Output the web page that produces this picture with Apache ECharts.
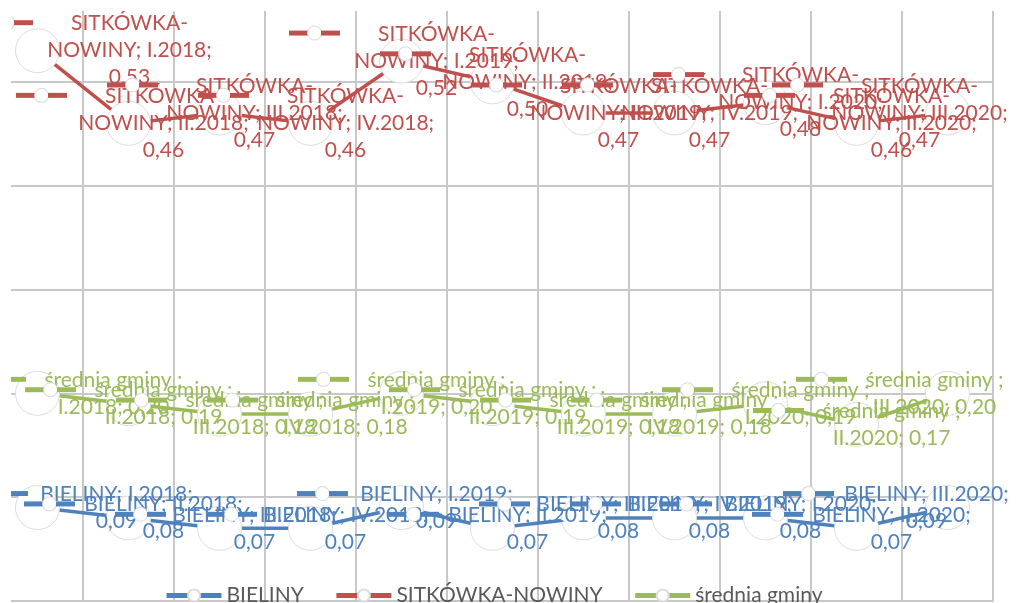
<!DOCTYPE html>
<html>
<head>
<meta charset="utf-8">
<script src="https://cdn.jsdelivr.net/npm/echarts@6/dist/echarts.min.js"></script>
<style>
  html, body { margin: 0; padding: 0; background: #fff; overflow: hidden; }
  /* wykres przycięty jak w oryginale: obszar rysowania wychodzi poza okno */
  #chart { position: absolute; left: -8px; top: -22px; width: 1024px; height: 625px; }
</style>
</head>
<body>
<div id="chart"></div>
<script>
// kwartały
const categories = ['I.2018', 'II.2018', 'III.2018', 'IV.2018', 'I.2019', 'II.2019',
  'III.2019', 'IV.2019', 'I.2020', 'II.2020', 'III.2020']
const bieliny = [0.09, 0.08, 0.07, 0.07, 0.09, 0.07, 0.08, 0.08, 0.08, 0.07, 0.09]
const sitkowka = [0.53, 0.46, 0.47, 0.46, 0.52, 0.50, 0.47, 0.47, 0.48, 0.46, 0.47]
const srednia = [0.20, 0.19, 0.18, 0.18, 0.20, 0.19, 0.18, 0.18, 0.19, 0.17, 0.20]
const yTicks = [0, 0.1, 0.2, 0.3, 0.4, 0.5, 0.6]

const font = 'Lato'
const gridColor = '#c8c8c8'
const last = categories.length - 1

function num(v) {
  return v.toFixed(2).replace('.', ',')
}

// etykieta jak w Excelu: nazwa serii; kategoria; wartość
const labelText = {
  'BIELINY': p => 'BIELINY; ' + p.name + ';\n' + num(p.value),
  'SITKÓWKA-NOWINY': p => 'SITKÓWKA-\nNOWINY; ' + p.name + ';\n' + num(p.value),
  'średnia gminy': p => 'średnia gminy ;\n' + p.name + '; ' + num(p.value)
}

// skrajne etykiety Excel dosuwa do środka wykresu
function edgeShift(i, shift) {
  if (i === 0) return shift[0]
  if (i === last) return shift[1]
  return 0
}

function mainSeries(name, data, color, shift) {
  return {
    name: name,
    type: 'line',
    data: data,
    z: 3,
    symbol: 'circle',
    symbolSize: 44,
    itemStyle: { color: '#fff', borderColor: '#dcdcdc', borderWidth: 1 },
    lineStyle: { color: color, width: 3.5 },
    label: {
      show: true,
      position: 'inside',
      color: color,
      fontFamily: font,
      fontSize: 21,
      lineHeight: 27,
      align: 'center',
      verticalAlign: 'middle',
      formatter: labelText[name]
    },
    labelLayout: p => ({ dx: 35 + edgeShift(p.dataIndex, shift), dy: 0 }),
    emphasis: { disabled: true }
  }
}

// klucz legendy przy etykiecie (—○—)
function keySeries(name, data, color, off, shift) {
  return {
    name: name + ' key',
    type: 'line',
    data: data,
    z: 4,
    silent: true,
    symbol: 'circle',
    symbolSize: 1,
    itemStyle: { color: 'rgba(0,0,0,0)' },
    lineStyle: { width: 0, opacity: 0 },
    label: {
      show: true,
      position: 'inside',
      formatter: '{a|}{b|}{a|}',
      rich: {
        a: { width: 19, height: 5, backgroundColor: color, verticalAlign: 'middle' },
        b: { width: 13, height: 13, backgroundColor: '#fff', borderColor: '#d9d9d9',
          borderWidth: 1, borderRadius: 7, verticalAlign: 'middle' }
      }
    },
    labelLayout: p => ({ dx: off[0] + edgeShift(p.dataIndex, shift), dy: off[1] }),
    emphasis: { disabled: true }
  }
}

const chart = echarts.init(document.getElementById('chart'))
chart.setOption({
  animation: false,
  grid: { left: 0, right: 23, top: 0, bottom: 2 },
  xAxis: {
    type: 'category',
    data: categories,
    boundaryGap: true,
    axisLine: { show: true, lineStyle: { color: gridColor, width: 2 } },
    axisTick: { show: false },
    axisLabel: { show: false },
    splitLine: { show: true, interval: 0, lineStyle: { color: gridColor, width: 2 } }
  },
  yAxis: {
    type: 'value',
    min: yTicks[0],
    max: yTicks[yTicks.length - 1],
    interval: 0.1,
    axisLine: { show: false },
    axisTick: { show: false },
    axisLabel: { show: false },
    splitLine: { show: true, lineStyle: { color: gridColor, width: 2 } }
  },
  legend: {
    data: ['BIELINY', 'SITKÓWKA-NOWINY', 'średnia gminy'],
    left: 167,
    top: 602,
    itemWidth: 55,
    itemHeight: 15,
    itemGap: 30,
    lineStyle: { width: 5 },
    textStyle: { fontFamily: font, fontSize: 21, color: '#595959' }
  },
  graphic: [
    { type: 'rect', z: 100, shape: { x: 0, y: 0, width: 19, height: 625 }, style: { fill: '#fff' } },
    { type: 'rect', z: 100, shape: { x: 0, y: 0, width: 1024, height: 33 }, style: { fill: '#fff' } }
  ],
  series: [
    mainSeries('BIELINY', bieliny, '#4F81BD', [44, -56]),
    mainSeries('SITKÓWKA-NOWINY', sitkowka, '#C0504D', [57, -63]),
    mainSeries('średnia gminy', srednia, '#9BBB59', [41, -48]),
    keySeries('BIELINY', bieliny, '#4F81BD', [-79, -14], [44, -60]),
    keySeries('SITKÓWKA-NOWINY', sitkowka, '#C0504D', [-87, -28], [57, -63]),
    keySeries('średnia gminy', srednia, '#9BBB59', [-78, -14], [41, -48])
  ]
})
</script>
</body>
</html>
